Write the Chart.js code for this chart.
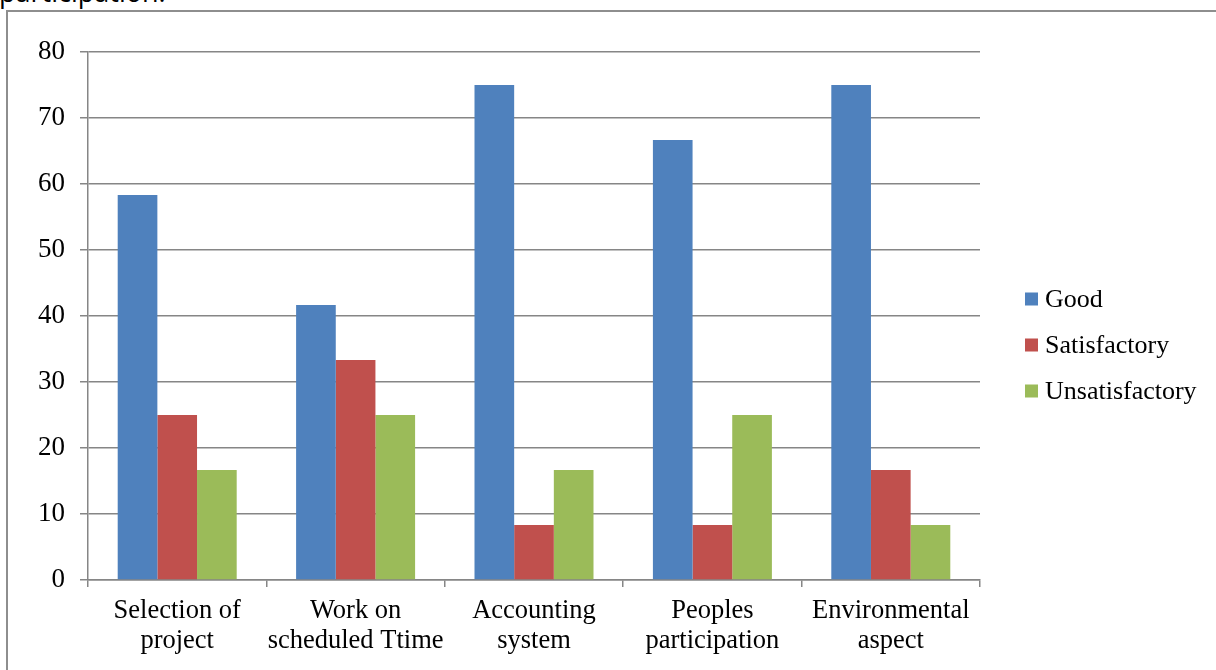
<!DOCTYPE html>
<html>
<head>
<meta charset="utf-8">
<script src="https://cdn.jsdelivr.net/npm/chart.js@4.4.1/dist/chart.umd.min.js"></script>
<style>
  html, body { margin: 0; padding: 0; background: #fff; overflow: hidden; }
  #wrap { position: relative; width: 1216px; height: 670px; }
  #caption {
    position: absolute; left: -1px; top: -27px;
    font-family: "Open Sans", "Liberation Sans", sans-serif;
    font-size: 27px; color: #000; white-space: nowrap;
  }
  #frame {
    position: absolute; left: 6px; top: 10px; width: 1230px; height: 700px;
    border: 2px solid #8e8e8e; box-sizing: border-box;
  }
  canvas { position: absolute; left: 0; top: 0; }
</style>
</head>
<body>
<div id="wrap">
  <div id="caption">participation.</div>
  <div id="frame"></div>
  <canvas id="chart" width="1216" height="670"></canvas>
</div>
<script>
// Survey categories and the share of responses (%) in each rating
const categories = [
  ['Selection of', 'project'],
  ['Work on', 'scheduled Ttime'],
  ['Accounting', 'system'],
  ['Peoples', 'participation'],
  ['Environmental', 'aspect']
];
const seriesNames = ['Good', 'Satisfactory', 'Unsatisfactory'];
const good = [58.33, 41.67, 75, 66.67, 75];
const satisfactory = [25, 33.33, 8.33, 8.33, 16.67];
const unsatisfactory = [16.67, 25, 16.67, 25, 8.33];
const yTicks = [0, 10, 20, 30, 40, 50, 60, 70, 80];

const colors = ['#4F81BD', '#C0504D', '#9BBB59'];
const gridColor = '#868686';
const serif = '"Liberation Serif", "Times New Roman", serif';

// Legend drawn at the right of the plot, one row per dataset
const sideLegend = {
  id: 'sideLegend',
  afterDraw(chart) {
    const ctx = chart.ctx;
    const items = chart.data.datasets;
    const x = 1025, y0 = 299, step = 46, box = 13;
    ctx.save();
    ctx.font = '26px ' + serif;
    ctx.textBaseline = 'middle';
    ctx.textAlign = 'left';
    items.forEach((ds, i) => {
      const y = y0 + i * step;
      ctx.fillStyle = ds.backgroundColor;
      ctx.fillRect(x, y - box / 2, box, box);
      ctx.fillStyle = '#000';
      ctx.fillText(ds.label, x + 20, y + 1);
    });
    ctx.restore();
  }
};

new Chart(document.getElementById('chart'), {
  type: 'bar',
  data: {
    labels: categories,
    datasets: [
      { label: seriesNames[0], data: good, backgroundColor: colors[0] },
      { label: seriesNames[1], data: satisfactory, backgroundColor: colors[1] },
      { label: seriesNames[2], data: unsatisfactory, backgroundColor: colors[2] }
    ]
  },
  options: {
    responsive: false,
    animation: false,
    devicePixelRatio: 1,
    layout: { padding: { left: 0, top: 52, right: 236, bottom: 0 } },
    datasets: { bar: { barPercentage: 1, categoryPercentage: 0.667, borderWidth: 0 } },
    plugins: { legend: { display: false }, tooltip: { enabled: false } },
    scales: {
      x: {
        offset: true,
        grid: { display: true, drawOnChartArea: false, drawTicks: true, tickLength: 7, color: gridColor, lineWidth: 1.5, offset: true },
        border: { display: true, color: gridColor, width: 1.5 },
        ticks: {
          color: '#000', padding: 9, maxRotation: 0, autoSkip: false,
          font: { family: serif, size: 26.5, lineHeight: 1.13 }
        },
        afterFit(scale) { scale.height = 90; }
      },
      y: {
        min: 0, max: 80,
        afterBuildTicks(scale) { scale.ticks = yTicks.map(v => ({ value: v })); },
        grid: { color: gridColor, lineWidth: 1.5, drawTicks: true, tickLength: 8 },
        border: { display: true, color: gridColor, width: 1.5 },
        ticks: { color: '#000', padding: 15, font: { family: serif, size: 27 } },
        afterFit(scale) { scale.width = 88; }
      }
    }
  },
  plugins: [sideLegend]
});
</script>
</body>
</html>
